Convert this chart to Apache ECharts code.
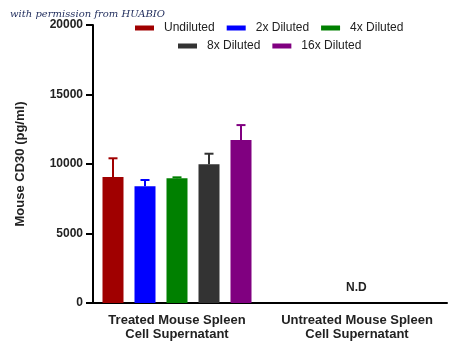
<!DOCTYPE html>
<html>
<head>
<meta charset="utf-8">
<script src="https://cdn.jsdelivr.net/npm/echarts@6/dist/echarts.min.js"></script>
<style>
  html, body { margin: 0; padding: 0; background: #fff; }
  #chart { width: 450px; height: 354px; }
</style>
</head>
<body>
<div id="chart"></div>
<script>
const categories = ['Treated Mouse Spleen\nCell Supernatant', 'Untreated Mouse Spleen\nCell Supernatant']
const seriesNames = ['Undiluted', '2x Diluted', '4x Diluted', '8x Diluted', '16x Diluted']
const colorList = ['#A00000', '#0000FF', '#008000', '#333333', '#800080']
// mean values for treated group (untreated is N.D)
const meanValues = [9070, 8400, 8970, 9980, 11730]
// top of the error bar (mean + SD)
const errorTops = [10410, 8850, 9040, 10740, 12800]
const yTicks = [0, 5000, 10000, 15000, 20000]

const myChart = echarts.init(document.getElementById('chart'))

const barWidth = 21
const barStep = 32
const font = 'Liberation Sans, Arial, sans-serif'

const series = seriesNames.map((name, i) => {
  return {
    name,
    type: 'bar',
    data: [meanValues[i], null],
    barWidth,
    barGap: ((barStep - barWidth) / barWidth * 100) + '%',
    itemStyle: { color: colorList[i] },
    z: 2,
  }
})

// error bars, upper side only with cap
series.push({
  name: 'err',
  type: 'custom',
  z: 3,
  renderItem: (params, api) => {
    const idx = api.value(0)
    const top = api.value(1)
    const mean = api.value(2)
    const base = api.coord([0, mean])
    const tip = api.coord([0, top])
    const x = base[0] + (idx - 2) * barStep
    const color = colorList[idx]
    return {
      type: 'group',
      children: [
        { type: 'line', shape: { x1: x, y1: base[1], x2: x, y2: tip[1] }, style: { stroke: color, lineWidth: 2 } },
        { type: 'line', shape: { x1: x - 4.5, y1: tip[1], x2: x + 4.5, y2: tip[1] }, style: { stroke: color, lineWidth: 2 } },
      ],
    }
  },
  data: errorTops.map((v, i) => [i, v, meanValues[i]]),
  encode: { x: -1, y: 1 },
  silent: true,
})

const legendBase = {
  icon: 'rect',
  itemWidth: 19,
  itemHeight: 5,
  itemGap: 12,
  selectedMode: false,
  textStyle: {
    fontSize: 12,
    color: '#222',
    fontFamily: font,
    padding: [0, 0, 0, 5],
  },
}

const option = {
  animation: false,
  backgroundColor: '#fff',
  color: colorList,
  legend: [
    { ...legendBase, data: seriesNames.slice(0, 3), left: 130, top: 17 },
    { ...legendBase, data: seriesNames.slice(3), left: 173, top: 35 },
  ],
  grid: {
    left: 87,
    right: 3,
    top: 25,
    bottom: 51,
  },
  xAxis: {
    type: 'category',
    data: categories,
    axisLine: { lineStyle: { color: '#000', width: 2 } },
    axisTick: { alignWithLabel: true, length: 3, lineStyle: { color: '#000', width: 2 } },
    axisLabel: {
      color: '#222',
      fontSize: 13,
      fontWeight: 'bold',
      fontFamily: font,
      lineHeight: 14,
      margin: 10,
      interval: 0,
    },
  },
  yAxis: {
    type: 'value',
    offset: -6,
    min: yTicks[0],
    max: yTicks[yTicks.length - 1],
    interval: yTicks[1] - yTicks[0],
    name: 'Mouse CD30 (pg/ml)',
    nameLocation: 'middle',
    nameGap: 66,
    nameTextStyle: {
      color: '#222',
      fontSize: 13,
      fontWeight: 'bold',
      fontFamily: font,
    },
    axisLine: { show: true, lineStyle: { color: '#000', width: 2 } },
    axisTick: { show: true, length: 7, lineStyle: { color: '#000', width: 2 } },
    axisLabel: {
      color: '#222',
      fontSize: 12,
      fontWeight: 'bold',
      fontFamily: font,
      margin: 10,
      formatter: (v) => String(v),
    },
    splitLine: { show: false },
  },
  graphic: [
    {
      type: 'text',
      left: 10,
      top: 9,
      style: {
        text: 'with permission from HUABIO',
        fontFamily: 'DejaVu Serif, serif',
        fontStyle: 'italic',
        fontSize: 10,
        fill: '#1d2a5a',
      },
    },
    {
      type: 'text',
      left: 346,
      top: 282,
      style: {
        text: 'N.D',
        fontFamily: font,
        fontWeight: 'bold',
        fontSize: 12,
        fill: '#222',
      },
    },
  ],
  series,
}

myChart.setOption(option, true)
</script>
</body>
</html>
